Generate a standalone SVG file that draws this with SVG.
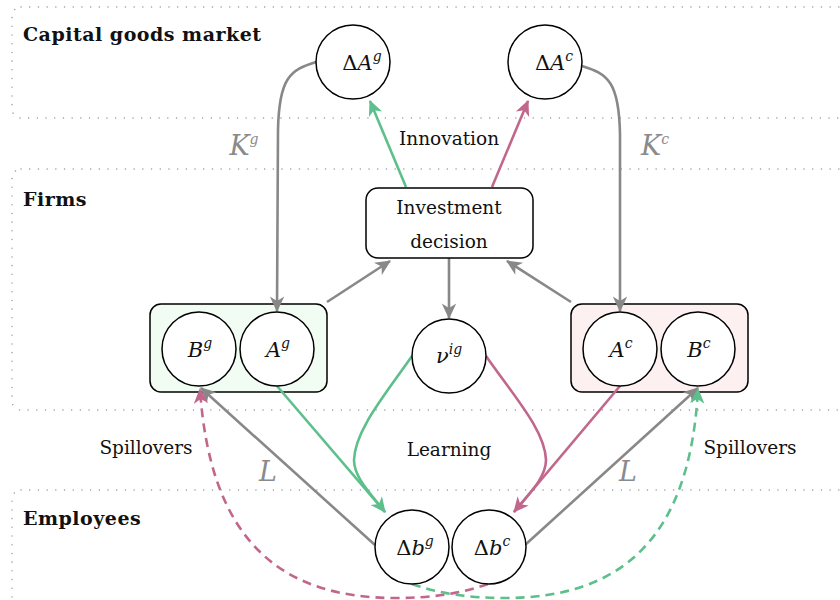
<svg xmlns="http://www.w3.org/2000/svg" width="840" height="600" viewBox="0 0 840 600">
<style>
.band{fill:none;stroke:#999;stroke-width:1.4;stroke-dasharray:0.1 8.6;stroke-linecap:round}
text{font-family:'DejaVu Serif','Liberation Serif',serif}
.bl{font-weight:bold;font-size:19px;letter-spacing:0.5px;fill:#111}
.c{fill:#fff;stroke:#000;stroke-width:1.5}
.t{font-size:21px;fill:#111;text-anchor:middle}
.i{font-style:italic}
.s{font-size:14px;font-style:italic}
.lab{font-size:18.5px;fill:#111;text-anchor:middle}
.gl{font-size:27px;font-style:italic;fill:#8a8a8a;text-anchor:middle}
.gy{fill:none;stroke:#888;stroke-width:2.6}
.gr{fill:none;stroke:#5dbf8b;stroke-width:2.6}
.pk{fill:none;stroke:#c2678c;stroke-width:2.6}
.dash{stroke-dasharray:9 6}
</style>
<defs>
<marker id="ag" markerUnits="userSpaceOnUse" markerWidth="20" markerHeight="20" viewBox="-16 -8 18 16" refX="0" refY="0" orient="auto"><path d="M1,0 L-13,-6.5 L-9,0 L-13,6.5 z" fill="#888"/></marker>
<marker id="agr" markerUnits="userSpaceOnUse" markerWidth="20" markerHeight="20" viewBox="-16 -8 18 16" refX="0" refY="0" orient="auto"><path d="M1,0 L-13,-6.5 L-9,0 L-13,6.5 z" fill="#5dbf8b"/></marker>
<marker id="apk" markerUnits="userSpaceOnUse" markerWidth="20" markerHeight="20" viewBox="-16 -8 18 16" refX="0" refY="0" orient="auto"><path d="M1,0 L-13,-6.5 L-9,0 L-13,6.5 z" fill="#c2678c"/></marker>
</defs>

<g id="bands">
<rect class="band" x="12" y="7" width="840" height="111" rx="9"/>
<rect class="band" x="12" y="169" width="840" height="241" rx="9"/>
<rect class="band" x="12" y="490" width="840" height="120" rx="9"/>
<text class="bl" x="23" y="41">Capital goods market</text>
<text class="bl" x="23" y="206">Firms</text>
<text class="bl" x="23" y="525">Employees</text>
</g>

<g id="firm-green"><rect x="150" y="304" width="177" height="88" rx="11" fill="#f1fcf3" stroke="#000" stroke-width="1.5"/></g>
<g id="firm-red"><rect x="571" y="304" width="177" height="88" rx="11" fill="#fdf0f1" stroke="#000" stroke-width="1.5"/></g>

<g id="connectors">
<path class="gy" d="M316,62 C290,70 279,78 278,130 L277,311" marker-end="url(#ag)"/>
<path class="gy" d="M582,66 C608,74 619,82 620,134 L620,311" marker-end="url(#ag)"/>
<path class="gr" d="M406,187 L370,101" marker-end="url(#agr)"/>
<path class="pk" d="M492,187 L528,101" marker-end="url(#apk)"/>
<path class="gy" d="M327,302 L390,261" marker-end="url(#ag)"/>
<path class="gy" d="M571,302 L507,261" marker-end="url(#ag)"/>
<path class="gy" d="M449,258 L449,318" marker-end="url(#ag)"/>
<path class="gr" d="M412,356 C385,395 355,430 354,460 C354,478 372,495 385,512" marker-end="url(#agr)"/>
<path class="gr" d="M277,386 L385,512"/>
<path class="pk" d="M486,356 C513,395 545,430 546,460 C546,478 528,495 514,512" marker-end="url(#apk)"/>
<path class="pk" d="M620,386 L514,512"/>
<path class="gy" d="M375,545 L201,388" marker-end="url(#ag)"/>
<path class="gy" d="M525,545 L698,388" marker-end="url(#ag)"/>
<path class="pk dash" d="M488,584 C460,594 430,598 395,598 C280,598 210,540 200,389" marker-end="url(#apk)"/>
<path class="gr dash" d="M412,584 C440,594 470,598 505,598 C620,598 690,540 698,389" marker-end="url(#agr)"/>
<text class="gl" x="244" y="155">K<tspan class="s" font-size="19" dy="-11">g</tspan></text>
<text class="gl" x="655" y="155">K<tspan class="s" font-size="19" dy="-11">c</tspan></text>
<text class="gl" x="268" y="481">L</text>
<text class="gl" x="628" y="481">L</text>
<text class="lab" x="449" y="145">Innovation</text>
<text class="lab" x="449" y="456">Learning</text>
<text class="lab" x="146" y="454">Spillovers</text>
<text class="lab" x="750" y="454">Spillovers</text>
</g>

<g id="dAg"><circle class="c" cx="353" cy="62" r="37"/><text class="t" x="362" y="70">Δ<tspan class="i">A</tspan><tspan class="s" dy="-9">g</tspan></text></g>
<g id="dAc"><circle class="c" cx="545" cy="62" r="37"/><text class="t" x="554" y="70">Δ<tspan class="i">A</tspan><tspan class="s" dy="-9">c</tspan></text></g>
<g id="invest"><rect x="366" y="188" width="167" height="70" rx="12" fill="#fff" stroke="#000" stroke-width="1.5"/><text class="lab" x="449" y="214">Investment</text><text class="lab" x="449" y="248">decision</text></g>
<g id="Bg"><circle class="c" cx="199" cy="349" r="37"/><text class="t i" x="200" y="357">B<tspan class="s" dy="-9">g</tspan></text></g>
<g id="Ag"><circle class="c" cx="277" cy="349" r="37"/><text class="t i" x="278" y="357">A<tspan class="s" dy="-9">g</tspan></text></g>
<g id="Ac"><circle class="c" cx="620" cy="349" r="37"/><text class="t i" x="621" y="357">A<tspan class="s" dy="-9">c</tspan></text></g>
<g id="Bc"><circle class="c" cx="698" cy="349" r="37"/><text class="t i" x="699" y="357">B<tspan class="s" dy="-9">c</tspan></text></g>
<g id="nu"><circle class="c" cx="449" cy="356" r="37"/><text class="t i" x="449" y="363">ν<tspan class="s" dy="-9">ig</tspan></text></g>
<g id="dbg"><circle class="c" cx="412" cy="547" r="37"/><text class="t" x="415" y="555">Δ<tspan class="i">b</tspan><tspan class="s" dy="-9">g</tspan></text></g>
<g id="dbc"><circle class="c" cx="489" cy="547" r="37"/><text class="t" x="492" y="555">Δ<tspan class="i">b</tspan><tspan class="s" dy="-9">c</tspan></text></g>
</svg>
